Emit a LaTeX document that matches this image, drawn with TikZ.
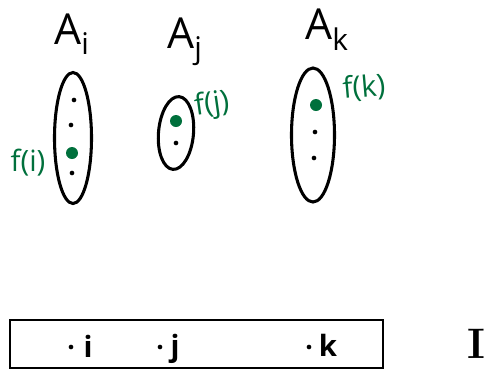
\documentclass[tikz,border=0pt]{standalone}
\usepackage{fontspec}
\setsansfont{Open Sans}
\usetikzlibrary{shapes.geometric}
\definecolor{fgreen}{RGB}{0,112,60}
\begin{document}
\begin{tikzpicture}[x=0.75pt,y=-0.75pt,
  setell/.style={draw, ellipse, line width=2.3pt, inner sep=0pt},
  bdot/.style={circle, fill=black, inner sep=0pt, minimum size=3.5pt},
  gdot/.style={circle, fill=fgreen, inner sep=0pt, minimum size=9pt},
  setlab/.style={font=\sffamily\fontsize{32}{34}\selectfont, inner sep=0pt},
  flab/.style={text=fgreen, font=\sffamily\fontsize{22}{24}\selectfont, inner sep=0pt},
  idxlab/.style={font=\sffamily\bfseries\fontsize{22}{24}\selectfont, inner sep=0pt},
  idxbox/.style={draw, line width=1.9pt, inner sep=0pt}]
\useasboundingbox (0,0) rectangle (485,369);
% set labels
\node[setlab] (Ai) at (72,34) {A$_{\mathsf{i}}$};
\node[setlab] (Aj) at (185,42) {A$_{\mathsf{j}}$};
\node[setlab] (Ak) at (327,30) {A$_{\mathsf{k}}$};
% sets
\node[setell, minimum width=27.75pt, minimum height=98.25pt] (Ei) at (73,138) {};
\node[setell, minimum width=26.25pt, minimum height=54.75pt, rotate=-5] (Ej) at (176,133) {};
\node[setell, minimum width=32.25pt, minimum height=100.5pt] (Ek) at (313,135) {};
% elements
\node[bdot] (i1) at (74,100) {};
\node[bdot] (i2) at (71,125) {};
\node[gdot] (fi) at (72,153) {};
\node[bdot] (i3) at (72,173) {};
\node[gdot] (fj) at (176,121) {};
\node[bdot] (j1) at (176,143) {};
\node[gdot] (fk) at (316,105) {};
\node[bdot] (k1) at (315,132) {};
\node[bdot] (k2) at (314,158) {};
% choice labels
\node[flab] (lfi) at (28,163) {f(i)};
\node[flab, rotate=8] (lfj) at (212,105) {f(j)};
\node[flab, rotate=5] (lfk) at (364,88) {f(k)};
% index set
\node[idxbox, minimum width=279.75pt, minimum height=36pt] (box) at (196.5,344) {};
\node[bdot] (di) at (71,347) {};
\node[idxlab] (li) at (88,346) {i};
\node[bdot] (dj) at (160,347) {};
\node[idxlab] (lj) at (175,349) {j};
\node[bdot] (dk) at (309,347) {};
\node[idxlab] (lk) at (328,345) {k};
\node[font=\rmfamily\bfseries\fontsize{32}{34}\selectfont, inner sep=0pt] (I) at (476,344) {I};
\end{tikzpicture}
\end{document}
